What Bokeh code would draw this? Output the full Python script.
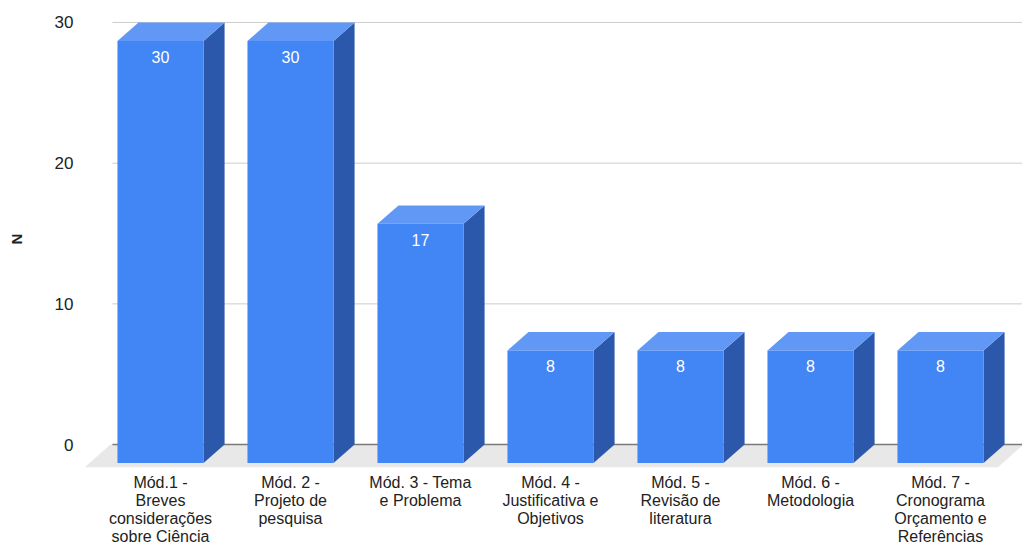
import numpy as np
from bokeh.plotting import figure
from bokeh.models import FixedTicker
from bokeh.core.properties import value
from bokeh.embed import file_html
from bokeh.resources import INLINE

categories = [
    "Mód.1 -\nBreves\nconsiderações\nsobre Ciência",
    "Mód. 2 -\nProjeto de\npesquisa",
    "Mód. 3 - Tema\ne Problema",
    "Mód. 4 -\nJustificativa e\nObjetivos",
    "Mód. 5 -\nRevisão de\nliteratura",
    "Mód. 6 -\nMetodologia",
    "Mód. 7 -\nCronograma\nOrçamento e\nReferências",
]
values = [30, 30, 17, 8, 8, 8, 8]
y_ticks = [0, 10, 20, 30]
y_title = "N"

FONT = "Liberation Sans"
FRONT = "#4285f4"
TOP = "#6198f5"
SIDE = "#2b58ab"
FLOOR = "#e8e8e8"

HW = 0.331      # half width of the front face (category units)
DDX = 0.162     # depth offset in x (category units)
DDY = 1.31      # depth offset in y (value units)
FDX, FDY = 0.2, 1.62   # floor depth
S = 14.133      # px per value unit
X0 = -0.5923
X1 = X0 + 939 / 130
Y0 = -23 / S
Y1 = 30 + 12 / S

p = figure(width=1022, height=548, x_range=(X0, X1), y_range=(Y0, Y1),
           output_backend="svg", toolbar_location=None,
           min_border_left=83, min_border_right=0, min_border_top=10, min_border_bottom=79)
p.outline_line_color = None
p.xgrid.visible = False
p.ygrid.visible = False

xs = np.arange(len(values))
n = len(values)

# floor
fx0 = xs[0] - 0.585
fx1 = xs[-1] + 0.44
p.patch([fx0, fx1, fx1 + FDX, fx0 + FDX], [-FDY, -FDY, 0, 0], fill_color=FLOOR, line_color=None)

# gridlines (back plane)
gx0 = xs[0] - 0.37
p.segment(x0=[gx0] * len(y_ticks), y0=y_ticks, x1=[X1] * len(y_ticks), y1=y_ticks,
          line_color=["#7a7a7a" if t == 0 else "#cccccc" for t in y_ticks],
          line_width=[1.5 if t == 0 else 1 for t in y_ticks])

# 3D bars
side_xs, side_ys, top_xs, top_ys = [], [], [], []
for x, v in zip(xs, values):
    r = x + HW
    l = x - HW
    side_xs.append([r, r + DDX, r + DDX, r])
    side_ys.append([-DDY, 0, v, v - DDY])
    top_xs.append([l, r, r + DDX, l + DDX])
    top_ys.append([v - DDY, v - DDY, v, v])
p.patches(side_xs, side_ys, fill_color=SIDE, line_color=None)
p.patches(top_xs, top_ys, fill_color=TOP, line_color=None)
p.quad(left=xs - HW, right=xs + HW, bottom=-DDY, top=np.array(values) - DDY,
       fill_color=FRONT, line_color=None)

p.text(x=xs, y=np.array(values) - DDY, text=[str(v) for v in values],
       text_align="center", text_baseline="middle", y_offset=16,
       text_color="#ffffff", text_font=value(FONT), text_font_size="16px")

# y axis
ya = p.yaxis[0]
ya.ticker = FixedTicker(ticks=y_ticks)
ya.axis_line_color = None
ya.major_tick_line_color = None
ya.minor_tick_line_color = None
ya.major_tick_out = 0
ya.major_tick_in = 0
ya.minor_tick_out = 0
ya.major_label_standoff = 10
ya.major_label_text_font = FONT
ya.major_label_text_font_size = "17px"
ya.major_label_text_color = "#222222"
ya.axis_label = y_title
ya.axis_label_text_font = FONT
ya.axis_label_text_font_style = "bold"
ya.axis_label_text_font_size = "15px"
ya.axis_label_text_color = "#222222"
ya.axis_label_standoff = 27

# x axis
xa = p.xaxis[0]
xa.ticker = FixedTicker(ticks=list(range(n)))
xa.major_label_overrides = {i: c for i, c in enumerate(categories)}
xa.axis_line_color = None
xa.major_tick_line_color = None
xa.minor_tick_line_color = None
xa.major_tick_out = 0
xa.major_tick_in = 0
xa.minor_tick_out = 0
xa.major_label_standoff = 6
xa.major_label_text_font = FONT
xa.major_label_text_font_size = "16px"
xa.major_label_text_line_height = 1.07
xa.major_label_text_color = "#222222"

open("out.html", "w").write(file_html(p, INLINE))
